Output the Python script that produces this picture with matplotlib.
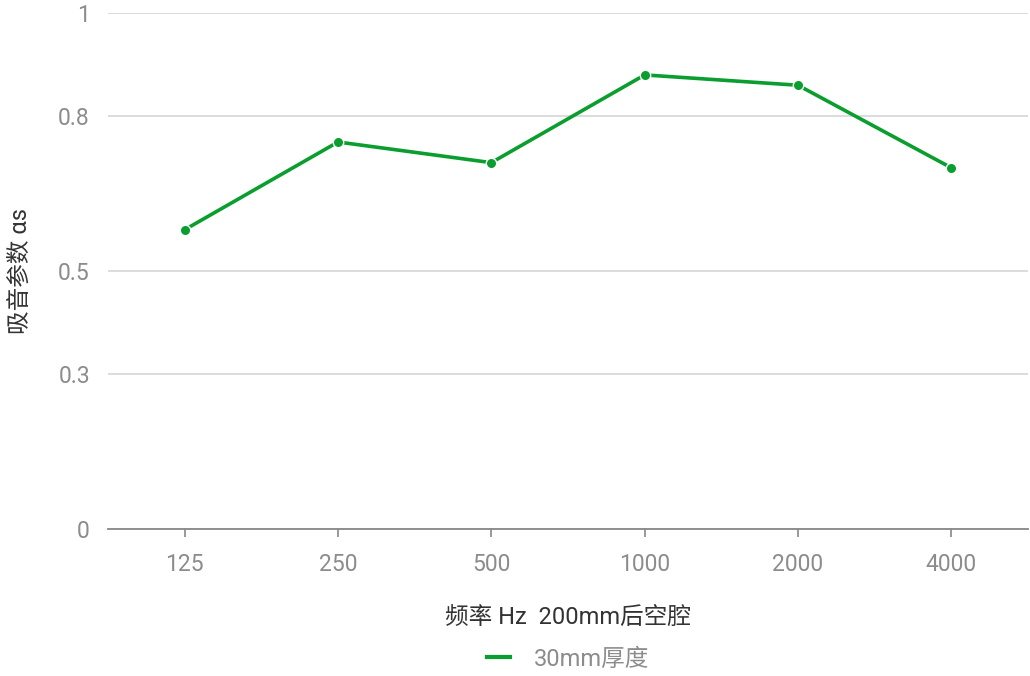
import matplotlib
matplotlib.use("Agg")
import matplotlib.pyplot as plt

plt.rcParams['font.family'] = ['Roboto', 'Noto Sans CJK SC', 'DejaVu Sans']

# Data
frequencies = ["125", "250", "500", "1000", "2000", "4000"]
absorption = [0.58, 0.75, 0.71, 0.88, 0.86, 0.70]
y_ticks = [0, 0.3, 0.5, 0.8, 1]
y_tick_labels = ["0", "0.3", "0.5", "0.8", "1"]
series_name = "30mm厚度"
x_title = "频率 Hz  200mm后空腔"
y_title = "吸音参数 αs"

green = "#0a9e2e"
grid_grey = "#d9d9d9"
tick_grey = "#8c8c8c"

fig = plt.figure(figsize=(10.3, 6.76), dpi=100)
ax = fig.add_axes([108 / 1030, 1 - 529 / 676, 920 / 1030, 516 / 676])

x = list(range(len(frequencies)))
ax.plot(x, absorption, color=green, linewidth=2.6, marker="o", markersize=7.5,
        markerfacecolor=green, markeredgecolor="white", markeredgewidth=1.0,
        label=series_name, zorder=3, clip_on=False)

ax.set_xlim(-0.5, len(frequencies) - 0.5)
ax.set_ylim(0, 1)
ax.set_xticks(x)
ax.set_xticklabels(frequencies)
ax.set_yticks(y_ticks)
ax.set_yticklabels(y_tick_labels)

ax.grid(axis="y", color=grid_grey, linewidth=1.3)
ax.set_axisbelow(True)
for side in ["top", "right", "left"]:
    ax.spines[side].set_visible(False)
ax.spines["bottom"].set_color("#888888")
ax.spines["bottom"].set_linewidth(1.3)

ax.tick_params(axis="y", length=0, pad=13, labelsize=16.5, labelcolor=tick_grey)
ax.tick_params(axis="x", length=6, width=1.2, color="#888888", pad=11.5,
               labelsize=16.5, labelcolor=tick_grey)

ax.set_xlabel(x_title, fontsize=17, color="#333333", va="center")
ax.xaxis.set_label_coords(0.5, (529 - 617) / 516)
ax.set_ylabel(y_title, fontsize=17, color="#333333", va="center", ha="center")
ax.yaxis.set_label_coords((20 - 108) / 920, 0.5)

leg = fig.legend(loc="center", bbox_to_anchor=(568 / 1030, 1 - 659 / 676),
                 frameon=False, fontsize=17, handlelength=1.0, handletextpad=1.0)
for t in leg.get_texts():
    t.set_color(tick_grey)
for h in leg.get_lines():
    h.set_marker("")
    h.set_linewidth(3)

fig.savefig("out.png", dpi=100)
